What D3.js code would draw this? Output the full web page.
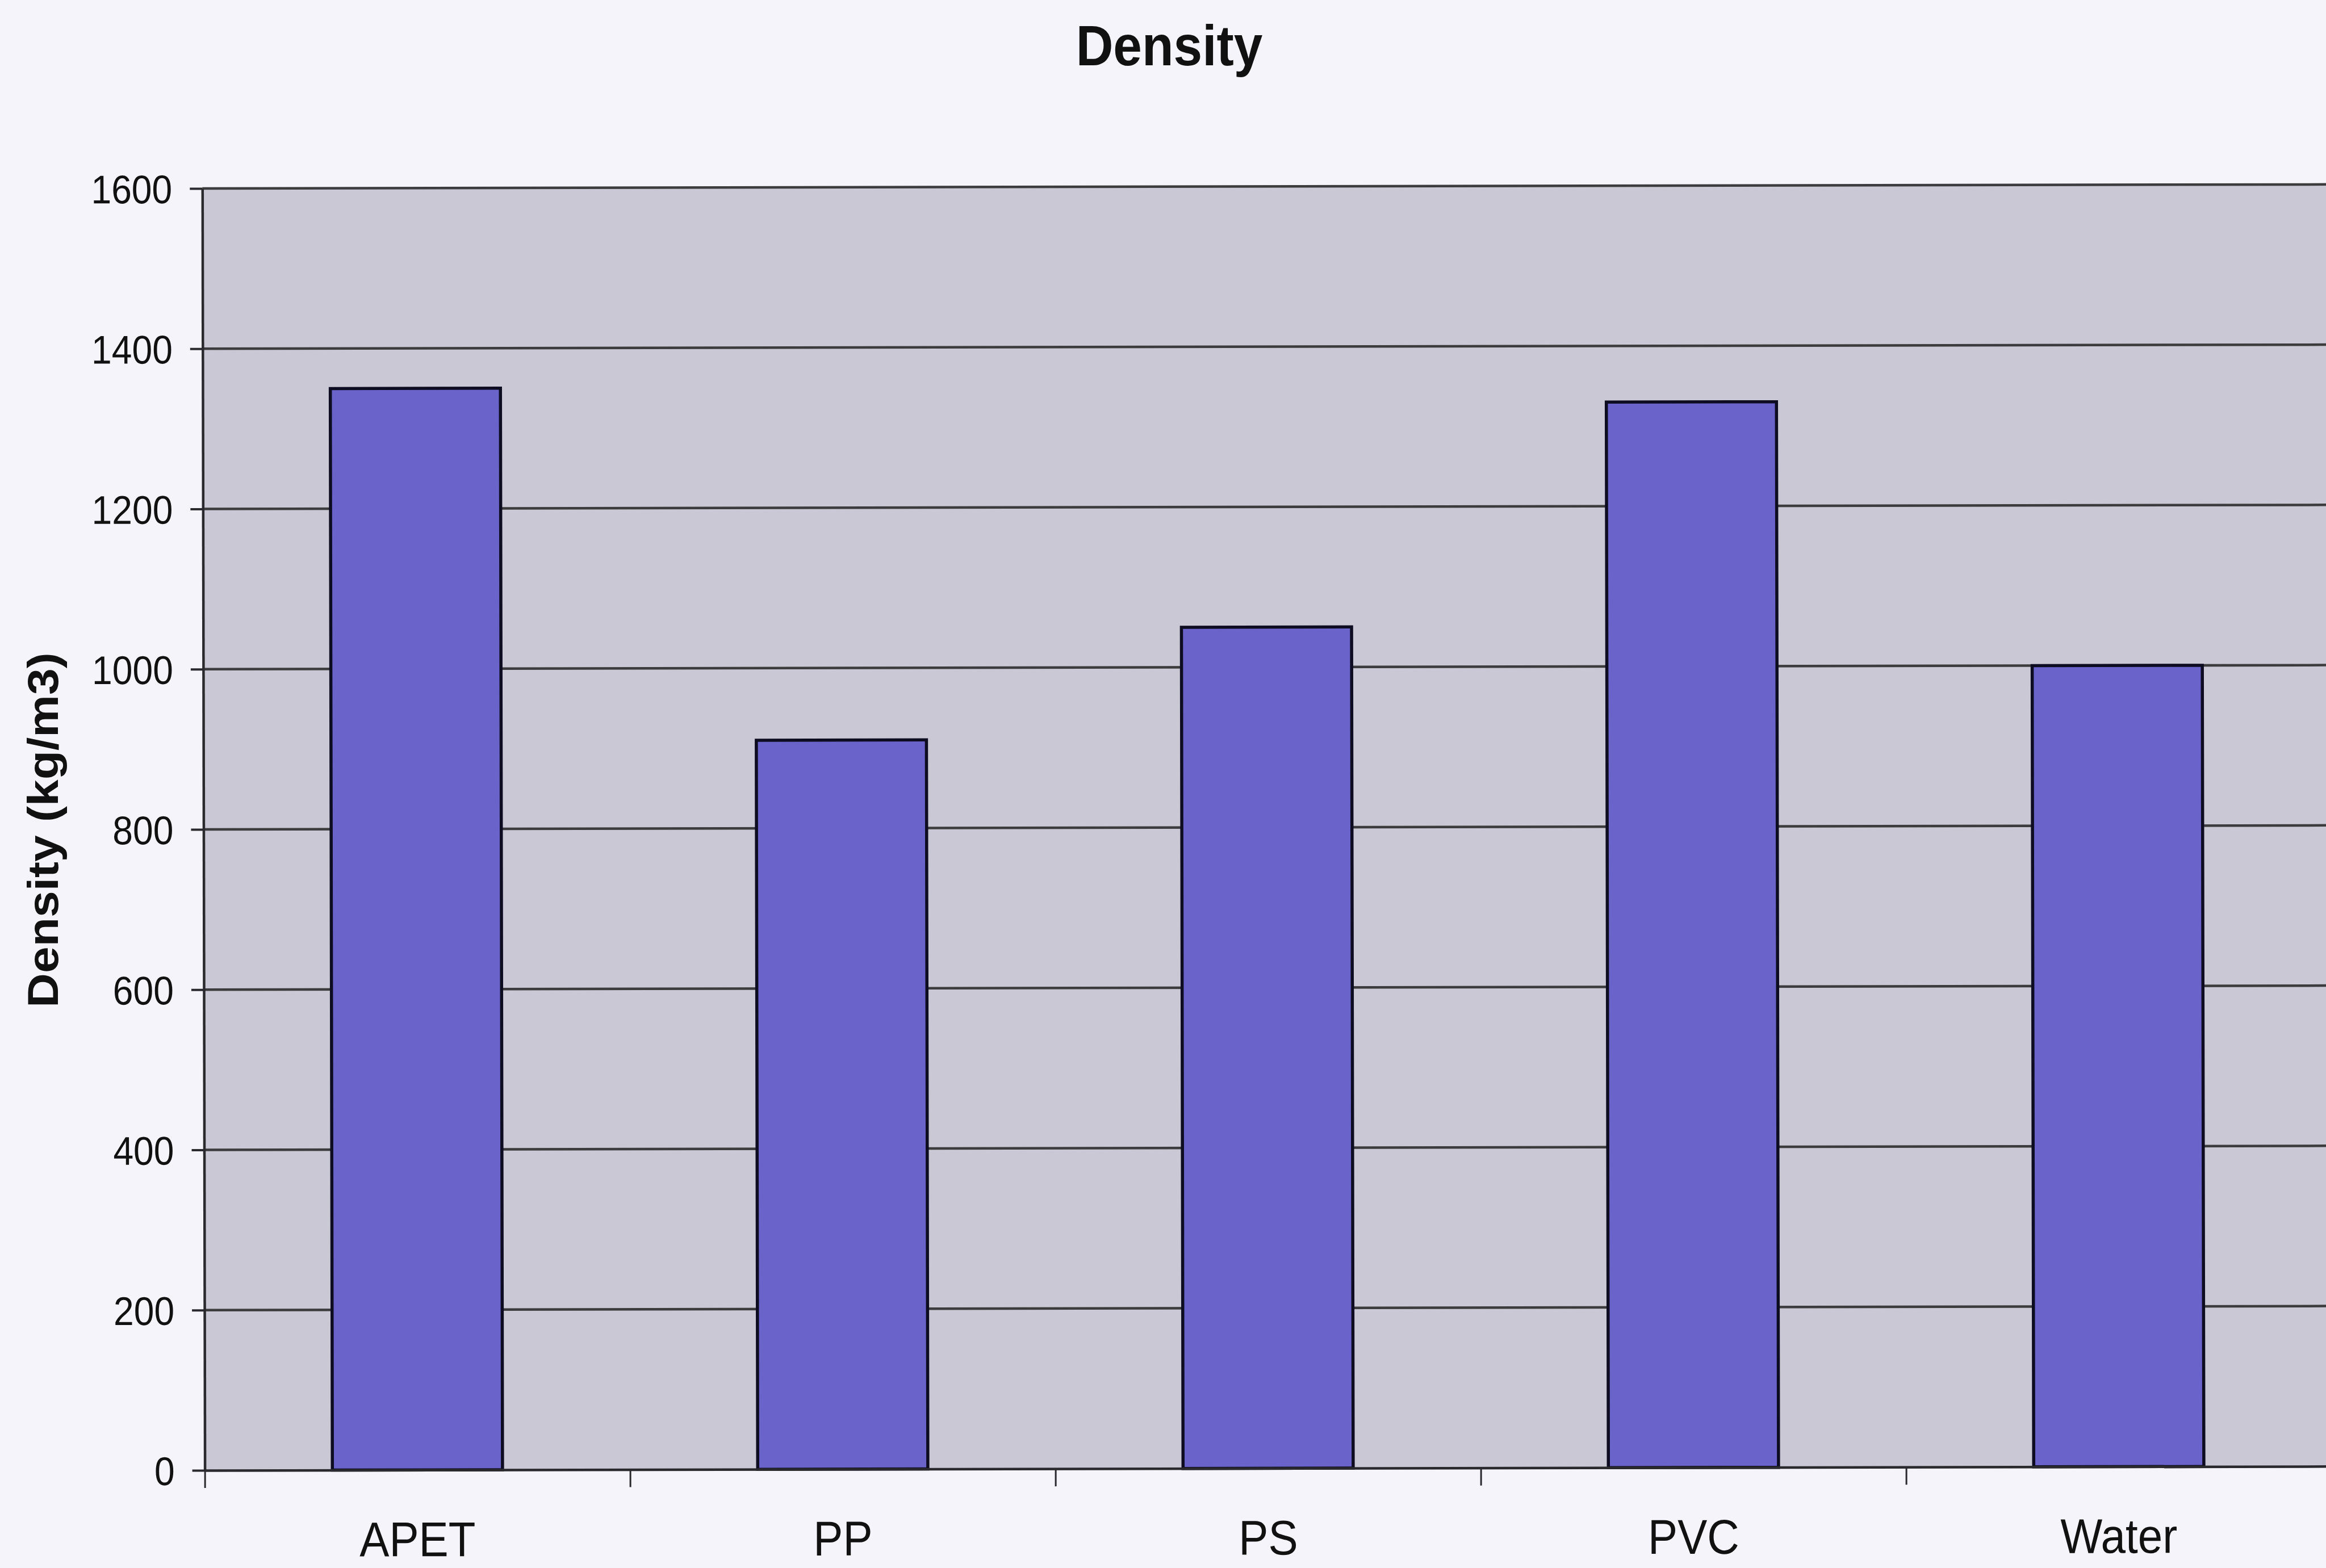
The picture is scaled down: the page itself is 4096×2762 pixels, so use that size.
<!DOCTYPE html>
<html>
<head>
<meta charset="utf-8">
<script src="https://cdn.jsdelivr.net/npm/d3@7"></script>
<style>
  html, body { margin: 0; padding: 0; background: #f4f4fa; overflow: hidden; }
  text { font-family: "Liberation Sans", Arial, Helvetica, sans-serif; fill: #111; }
</style>
</head>
<body>
<script>
// Densities of common packaging polymers compared with water
const materials = ["APET", "PP", "PS", "PVC", "Water"];
const densities = [1350, 910, 1050, 1330, 1000];
const yTicks = [0, 200, 400, 600, 800, 1000, 1200, 1400, 1600];
const chartTitle = "Density";
const yAxisTitle = "Density (kg/m3)";

const W = 4096, H = 2762;
const plotLeft = 360.6, plotTop = 332, plotBottom = 2590, step = 749;
const plotRight = plotLeft + step * materials.length;
const squeeze = 0.91;           // horizontal glyph compression of the labels
const tilt = -0.11;             // slight rotation of the whole chart

const svg = d3.select("body").append("svg")
  .attr("width", W).attr("height", H);

svg.append("rect").attr("width", W).attr("height", H).attr("fill", "#f4f4fa");

const x = d3.scaleBand().domain(materials).range([plotLeft, plotRight])
  .paddingInner(0.6).paddingOuter(0.3);
const xEdges = d3.scaleLinear().domain([0, materials.length]).range([plotLeft, plotRight]);
const y = d3.scaleLinear().domain([0, 1600]).range([plotBottom, plotTop]);

const g = svg.append("g").attr("transform", `rotate(${tilt},${plotLeft},${plotBottom})`);

// plot area
g.append("rect")
  .attr("x", plotLeft).attr("y", y(1600))
  .attr("width", plotRight - plotLeft).attr("height", y(0) - y(1600))
  .attr("fill", "#c9c8d4");

// horizontal gridlines
g.append("g").selectAll("line").data(yTicks.filter(d => d > 0)).join("line")
  .attr("x1", plotLeft).attr("x2", plotRight)
  .attr("y1", d => y(d)).attr("y2", d => y(d))
  .attr("stroke", "#3c3c3e").attr("stroke-width", 4.5);

// bars
g.append("g").selectAll("rect").data(materials).join("rect")
  .attr("x", d => x(d))
  .attr("y", (d, i) => y(densities[i]))
  .attr("width", x.bandwidth())
  .attr("height", (d, i) => y(0) - y(densities[i]))
  .attr("fill", "#6a63c9")
  .attr("stroke", "#0e0c20").attr("stroke-width", 5.5);

// y axis
const yAxis = g.append("g").attr("transform", `translate(${plotLeft},0)`)
  .call(d3.axisLeft(y).tickValues(yTicks).tickFormat(d3.format("d"))
    .tickSize(22).tickSizeOuter(0).tickPadding(31));
yAxis.select(".domain").attr("stroke", "#2a2a2e").attr("stroke-width", 4.5);
yAxis.selectAll(".tick line").attr("stroke", "#2a2a2e").attr("stroke-width", 4);
yAxis.selectAll(".tick text")
  .attr("font-size", 70.6)
  .attr("x", -53 / squeeze)
  .attr("dy", "0.36em")
  .attr("transform", `scale(${squeeze},1)`)
  .style("fill", "#111");

// x axis: category boundary ticks
const xTickAxis = g.append("g").attr("transform", `translate(0,${plotBottom})`)
  .call(d3.axisBottom(xEdges).tickValues(d3.range(materials.length + 1))
    .tickFormat("").tickSize(31).tickSizeOuter(0));
xTickAxis.select(".domain").attr("stroke", "#2a2a2e").attr("stroke-width", 4.5);
xTickAxis.selectAll(".tick line").attr("stroke", "#2a2a2e").attr("stroke-width", 3);

// x axis: category labels
const xLabelAxis = g.append("g").attr("transform", `translate(0,${plotBottom})`)
  .call(d3.axisBottom(x).tickSize(0));
xLabelAxis.select(".domain").remove();
xLabelAxis.selectAll(".tick text")
  .attr("font-size", 86)
  .attr("y", 152).attr("dy", 0)
  .attr("transform", `scale(${squeeze},1)`)
  .style("fill", "#111");

// chart title
svg.append("text")
  .attr("transform", `translate(2059,114.5) scale(${squeeze},1)`)
  .attr("text-anchor", "middle")
  .attr("font-size", 100).attr("font-weight", "bold")
  .text(chartTitle);

// y axis title
svg.append("text")
  .attr("transform", `translate(102,1462) rotate(-90) scale(1,${squeeze})`)
  .attr("text-anchor", "middle")
  .attr("font-size", 84).attr("font-weight", "bold")
  .text(yAxisTitle);
</script>
</body>
</html>
